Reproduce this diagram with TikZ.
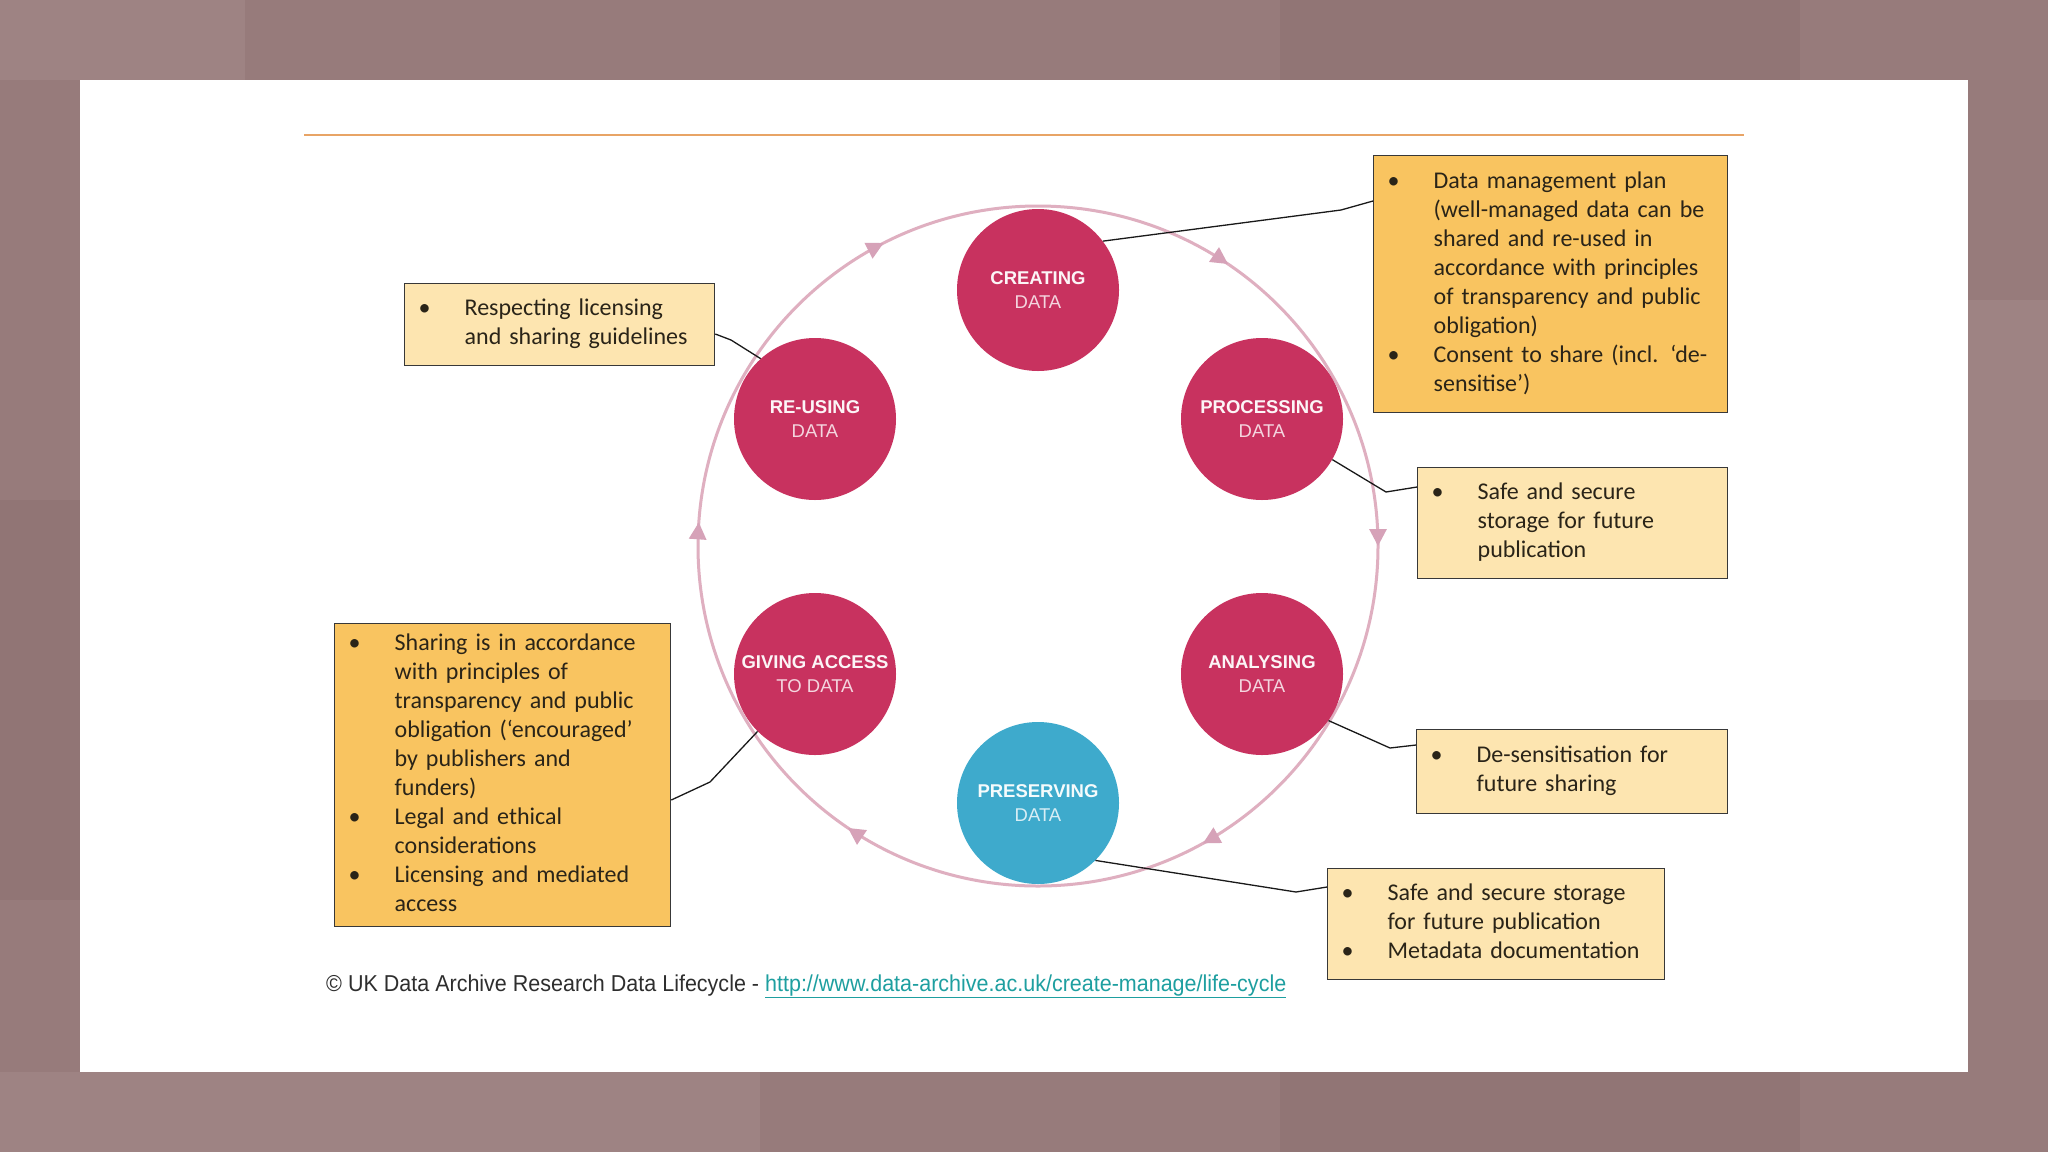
\documentclass[tikz,border=0pt]{standalone}
\usepackage{fontspec}
\setmainfont{Carlito}
\newfontfamily\arialf{Liberation Sans}
\newfontfamily\footf[FakeStretch=0.935]{Liberation Sans}
\usetikzlibrary{arrows.meta,decorations.markings}

\definecolor{bgmauve}{HTML}{977B7B}
\definecolor{bglight}{HTML}{9E8383}
\definecolor{bgdark}{HTML}{917575}
\definecolor{crim}{HTML}{C8325F}
\definecolor{pblue}{HTML}{3EAACC}
\definecolor{ringc}{HTML}{DFAFC0}
\definecolor{arrowc}{HTML}{D6A2B8}
\definecolor{boxorange}{HTML}{F9C460}
\definecolor{boxlight}{HTML}{FDE5B0}
\definecolor{linkc}{HTML}{1E9FA0}
\definecolor{rulec}{HTML}{E8A466}
\definecolor{txt}{HTML}{2A2418}

\newcommand\bl{\makebox[60pt][l]{\hspace{14pt}\textbullet}}

\begin{document}
\begin{tikzpicture}[x=1pt,y=-1pt,
  stage/.style={circle, fill=crim, minimum size=162pt, inner sep=0pt, align=center,
    font=\arialf\fontsize{18.5}{24}\selectfont},
  callout/.style={draw=black!78, line width=1.3pt, inner xsep=0pt, inner ysep=0pt,
    anchor=north west, text=txt, font=\fontsize{24}{29}\selectfont},
  lit/.style={callout, fill=boxlight},
  dark/.style={callout, fill=boxorange},
  link/.style={draw=black!90, line width=1.3pt},
  ringline/.style={draw=ringc, line width=3pt},
  ringtip/.style={arrowc},
]
\useasboundingbox (0,0) rectangle (2048,1152);
% outer background and slide
\fill[bgmauve] (0,0) rectangle (2048,1152);
\fill[bglight] (0,0) rectangle (245,80);
\fill[bgdark] (1280,0) rectangle (1800,80);
\fill[bglight] (0,1072) rectangle (760,1152);
\fill[bgdark] (1280,1072) rectangle (1800,1152);
\fill[bglight] (1968,300) rectangle (2048,700);
\fill[bgdark] (0,500) rectangle (80,900);
\fill[white] (80,80) rectangle (1968,1072);

% top rule
\draw[rulec, line width=2pt] (304,135) -- (1744,135);

% cycle ring with arrowheads (clockwise)
\draw[ringline, postaction={decorate}, decoration={markings,
   mark=at position 0.0944 with {\arrow[ringtip]{Triangle[length=17pt,width=17pt]}},
   mark=at position 0.2500 with {\arrow[ringtip]{Triangle[length=17pt,width=17pt]}},
   mark=at position 0.4194 with {\arrow[ringtip]{Triangle[length=17pt,width=17pt]}},
   mark=at position 0.5944 with {\arrow[ringtip]{Triangle[length=17pt,width=17pt]}},
   mark=at position 0.7611 with {\arrow[ringtip]{Triangle[length=17pt,width=17pt]}},
   mark=at position 0.9250 with {\arrow[ringtip]{Triangle[length=17pt,width=17pt]}}}]
  (1038,546) ++(-90:340) arc[start angle=-90, end angle=270, radius=340];

% stages
\node[stage] (create) at (1038,290) {{\bfseries\color{white!95!crim}CREATING}\\{\color{white!80!crim}DATA}};
\node[stage] (proc) at (1262,419) {{\bfseries\color{white!95!crim}PROCESSING}\\{\color{white!80!crim}DATA}};
\node[stage] (anal) at (1262,674) {{\bfseries\color{white!95!crim}ANALYSING}\\{\color{white!80!crim}DATA}};
\node[stage, fill=pblue] (pres) at (1038,803) {{\bfseries\color{white!95!pblue}PRESERVING}\\{\color{white!80!pblue}DATA}};
\node[stage] (give) at (815,674) {{\bfseries\color{white!95!crim}GIVING ACCESS}\\{\color{white!80!crim}TO DATA}};
\node[stage] (reuse) at (815,419) {{\bfseries\color{white!95!crim}RE-USING}\\{\color{white!80!crim}DATA}};

% callout boxes
\node[dark, text width=354pt, minimum height=257pt] (b1) at (1373,155) {%
\begin{tabular}{@{}l@{}l@{}}
\bl & Data management plan\\
 & (well-managed data can be\\
 & shared and re-used in\\
 & accordance with principles\\
 & of transparency and public\\
 & obligation)\\
\bl & Consent to share (incl. ‘de-\\
 & sensitise’)
\end{tabular}};

\node[lit, text width=310pt, minimum height=111pt] (b2) at (1417,467) {%
\begin{tabular}{@{}l@{}l@{}}
\bl & Safe and secure\\
 & storage for future\\
 & publication
\end{tabular}};

\node[lit, text width=311pt, minimum height=84pt] (b3) at (1416,729) {%
\begin{tabular}{@{}l@{}l@{}}
\bl & De-sensitisation for\\
 & future sharing
\end{tabular}};

\node[lit, text width=337pt, minimum height=111pt] (b4) at (1327,868) {%
\begin{tabular}{@{}l@{}l@{}}
\bl & Safe and secure storage\\
 & for future publication\\
\bl & Metadata documentation
\end{tabular}};

\node[lit, text width=310pt, minimum height=82pt] (b5) at (404,283) {%
\begin{tabular}{@{}l@{}l@{}}
\bl & Respecting licensing\\
 & and sharing guidelines
\end{tabular}};

\node[dark, text width=336pt, minimum height=303pt] (b6) at (334,623) {%
\begin{tabular}{@{}l@{}l@{}}
\bl & Sharing is in accordance\\
 & with principles of\\
 & transparency and public\\
 & obligation (‘encouraged’\\
 & by publishers and\\
 & funders)\\
\bl & Legal and ethical\\
 & considerations\\
\bl & Licensing and mediated\\
 & access
\end{tabular}};

% connectors
\draw[link] (create.37) -- (1341,210) -- ([yshift=-46pt]b1.north west);
\draw[link] (proc.-30) -- (1386,492) -- ([yshift=-20pt]b2.north west);
\draw[link] (anal.-35) -- (1390,748) -- ([yshift=-16pt]b3.north west);
\draw[link] (pres.-45) -- (1296,892) -- ([yshift=-19pt]b4.north west);
\draw[link] ([yshift=-51pt]b5.north east) -- (731,340) -- (reuse.132);
\draw[link] ([yshift=-177pt]b6.north east) -- (710,782) -- (give.225);

% footer
\node[anchor=base west, inner sep=0pt, text=black!82,
  font=\footf\fontsize{23}{28}\selectfont] (foot) at (326,991)
  {© UK Data Archive Research Data Lifecycle - \textcolor{linkc}{\underline{http://www.data-archive.ac.uk/create-manage/life-cycle}}};
\end{tikzpicture}
\end{document}
